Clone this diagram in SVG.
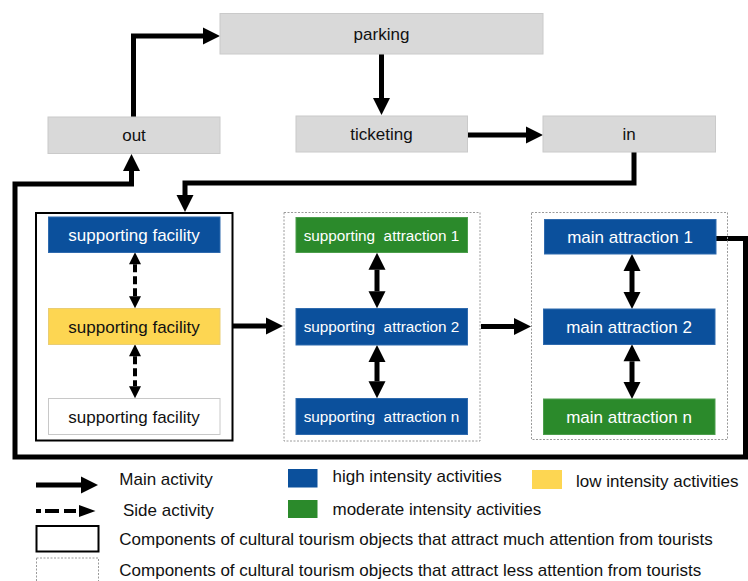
<svg xmlns="http://www.w3.org/2000/svg" width="748" height="581" viewBox="0 0 748 581">
<style>
text{font-family:"Liberation Sans",Arial,sans-serif;text-anchor:middle}
.gray{fill:#D9D9D9;stroke:#CACACA;stroke-width:1}
.blue{fill:#0B509C;stroke:#2F6AAE;stroke-width:1}
.green{fill:#2B8A2B;stroke:#4C9E4C;stroke-width:1}
.yellow{fill:#FDD652;stroke:#E9CD74;stroke-width:1}
.white{fill:#FFFFFF;stroke:#C8C8C8;stroke-width:1}
.t17{font-size:17px;fill:#111}
.w17{font-size:17px;fill:#FFFFFF}
.w15{font-size:15.3px;fill:#FFFFFF}
.solidbox{fill:none;stroke:#000;stroke-width:2}
.dotbox{fill:none;stroke:#9A9A9A;stroke-width:1;stroke-dasharray:2 1.5}
.main{fill:none;stroke:#000;stroke-width:5}
.side{fill:none;stroke:#000;stroke-width:4;stroke-dasharray:8 4}
.leg{font-size:17px;fill:#111;text-anchor:start}
</style>
<defs>
<marker id="ah" markerUnits="userSpaceOnUse" markerWidth="17" markerHeight="17" refX="0" refY="8.5" orient="auto-start-reverse" overflow="visible">
<path d="M0,0 L17,8.5 L0,17 z" fill="#000"/>
</marker>
<marker id="sh" markerUnits="userSpaceOnUse" markerWidth="12" markerHeight="12" refX="0" refY="6" orient="auto-start-reverse" overflow="visible">
<path d="M0,0 L12,6 L0,12 z" fill="#000"/>
</marker>
</defs>

<g id="connectors">
<path class="main" d="M133.5,117 V36 H203" marker-end="url(#ah)"/>
<path class="main" d="M381.5,54 V98" marker-end="url(#ah)"/>
<path class="main" d="M467,135 H526" marker-end="url(#ah)"/>
<path class="main" d="M634,152 V183 H185 V195" marker-end="url(#ah)"/>
<path class="main" d="M716,238.5 H745.5 V457 H15 V184 H131.5 V171" marker-end="url(#ah)"/>
<path class="main" d="M232,326 H266" marker-end="url(#ah)"/>
<path class="main" d="M481,326.5 H514" marker-end="url(#ah)"/>
<path class="main" d="M377,269.7 V291.3" marker-start="url(#ah)" marker-end="url(#ah)"/>
<path class="main" d="M377,362 V381.3" marker-start="url(#ah)" marker-end="url(#ah)"/>
<path class="main" d="M632,271 V292" marker-start="url(#ah)" marker-end="url(#ah)"/>
<path class="main" d="M632,361.3 V382" marker-start="url(#ah)" marker-end="url(#ah)"/>
<path class="side" d="M135,264.3 V296.3" marker-start="url(#sh)" marker-end="url(#sh)"/>
<path class="side" d="M135,356.3 V386.3" marker-start="url(#sh)" marker-end="url(#sh)"/>
</g>

<g id="parking">
<rect class="gray" x="220" y="13.5" width="323" height="40.5"/>
<text class="t17" x="381.5" y="39.5">parking</text>
</g>
<g id="out">
<rect class="gray" x="48" y="117" width="172" height="36.5"/>
<text class="t17" x="134" y="141">out</text>
</g>
<g id="ticketing">
<rect class="gray" x="296" y="116" width="171.5" height="36"/>
<text class="t17" x="381.5" y="140">ticketing</text>
</g>
<g id="in">
<rect class="gray" x="543" y="116" width="172.5" height="36"/>
<text class="t17" x="629" y="140">in</text>
</g>

<g id="group-facilities">
<rect class="solidbox" x="36" y="213" width="196.5" height="227.5"/>
</g>
<g id="facility-1">
<rect class="blue" x="48.5" y="217" width="171.5" height="35.5"/>
<text class="w17" x="134" y="240.5">supporting facility</text>
</g>
<g id="facility-2">
<rect class="yellow" x="48.5" y="308.5" width="171.5" height="36"/>
<text class="t17" x="134" y="332.5">supporting facility</text>
</g>
<g id="facility-3">
<rect class="white" x="48.5" y="398.5" width="171.5" height="36"/>
<text class="t17" x="134" y="422.5">supporting facility</text>
</g>

<g id="group-supporting-attractions">
<rect class="dotbox" x="284" y="212.5" width="196" height="228.5"/>
</g>
<g id="supporting-attraction-1">
<rect class="green" x="296" y="217.5" width="171.5" height="35"/>
<text class="w15" x="381.5" y="240.5" xml:space="preserve">supporting  attraction 1</text>
</g>
<g id="supporting-attraction-2">
<rect class="blue" x="296" y="308.5" width="171.5" height="36.5"/>
<text class="w15" x="381.5" y="332" xml:space="preserve">supporting  attraction 2</text>
</g>
<g id="supporting-attraction-n">
<rect class="blue" x="296" y="398.5" width="171.5" height="36"/>
<text class="w15" x="381.5" y="421.5" xml:space="preserve">supporting  attraction n</text>
</g>

<g id="group-main-attractions">
<rect class="dotbox" x="531.5" y="212.5" width="196" height="227"/>
</g>
<g id="main-attraction-1">
<rect class="blue" x="544.5" y="219.5" width="171.5" height="34.5"/>
<text class="w17" x="630" y="242.5">main attraction 1</text>
</g>
<g id="main-attraction-2">
<rect class="blue" x="543.5" y="309" width="171.5" height="35.5"/>
<text class="w17" x="629" y="332.5">main attraction 2</text>
</g>
<g id="main-attraction-n">
<rect class="green" x="543.5" y="399" width="171.5" height="35.5"/>
<text class="w17" x="629" y="422.5">main attraction n</text>
</g>

<g id="legend">
<path class="main" d="M36,485 H81" stroke-width="6" marker-end="url(#ah)"/>
<text class="leg" x="119.3" y="484.5">Main activity</text>
<path d="M36,511 H79" fill="none" stroke="#000" stroke-width="4" stroke-dasharray="5 4 14 5 12 4"/>
<path d="M79,505 L95.5,511 L79,517 z" fill="#000"/>
<text class="leg" x="123" y="516">Side activity</text>
<rect x="288" y="469" width="29.5" height="18.5" fill="#0B509C"/>
<text class="leg" x="332.5" y="482">high intensity activities</text>
<rect x="532" y="470" width="30" height="19" fill="#FDD652"/>
<text class="leg" x="576" y="487">low intensity activities</text>
<rect x="288" y="500" width="29.5" height="18" fill="#2B8A2B"/>
<text class="leg" x="332.5" y="515">moderate intensity activities</text>
<rect class="solidbox" x="36.5" y="526" width="62" height="25.5"/>
<text class="leg" x="119.3" y="545">Components of cultural tourism objects that attract much attention from tourists</text>
<rect class="dotbox" x="36.5" y="558" width="62" height="30"/>
<text class="leg" x="119.3" y="575.5">Components of cultural tourism objects that attract less attention from tourists</text>
</g>
</svg>
